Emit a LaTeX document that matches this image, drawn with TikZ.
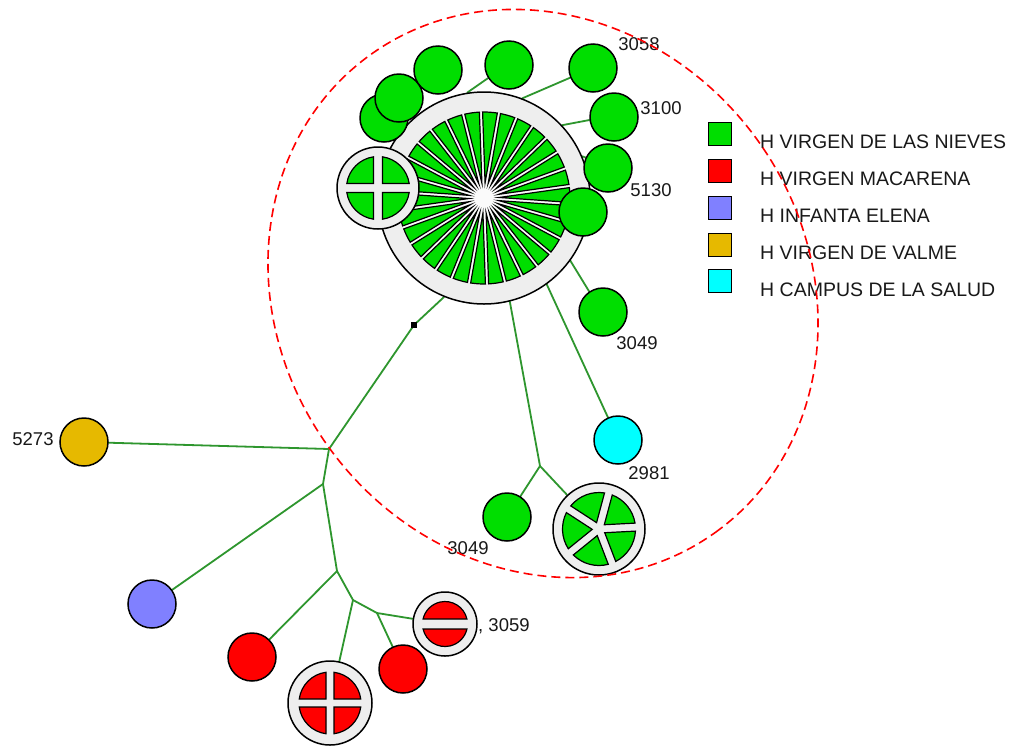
\documentclass[tikz,border=0pt]{standalone}
\usepackage{fontspec}
\setmainfont{Liberation Sans}
\usetikzlibrary{calc}
\definecolor{ngreen}{RGB}{0,222,0}
\definecolor{nred}{RGB}{255,0,0}
\definecolor{nblue}{RGB}{128,128,255}
\definecolor{nyellow}{RGB}{230,185,0}
\definecolor{ncyan}{RGB}{0,255,255}
\definecolor{ringgray}{RGB}{238,238,238}
\definecolor{edgegreen}{RGB}{46,150,46}
\pgfdeclarelayer{bgzero}
\pgfdeclarelayer{edges}
\pgfsetlayers{bgzero,edges,main}
% #1 cx, #2 cy, #3 R, #4 n, #5 start angle, #6 gap, #7 colour
\newcommand\piewedges[7]{%
  \pgfmathsetmacro\pieD{360/#4}%
  \pgfmathsetmacro\pieV{(#6/2)/sin(\pieD/2)}%
  \pgfmathsetmacro\pieE{asin((#6/2)/#3)}%
  \foreach \k in {1,...,#4}{%
    \pgfmathsetmacro\pieA{#5+(\k-1)*\pieD}%
    \pgfmathsetmacro\pieM{\pieA+\pieD/2}%
    \pgfmathsetmacro\pieS{\pieA+\pieE}%
    \pgfmathsetmacro\pieT{\pieA+\pieD-\pieE}%
    \filldraw[fill=#7, draw=black, line width=1.2pt, line join=miter]
      ($(#1,#2)+(-\pieM:\pieV)$) -- ($(#1,#2)+(-\pieS:#3)$)
      arc[start angle=-\pieS, end angle=-\pieT, radius=#3] -- cycle;
  }%
}
\begin{document}
\begin{tikzpicture}[x=1pt,y=-1pt,
  nd/.style={circle, draw=black, line width=1.5pt, inner sep=0pt},
  gnode/.style={nd, fill=ngreen, minimum size=48pt},
  edge/.style={draw=edgegreen, line width=1.8pt, line cap=round},
  lbl/.style={font=\fontsize{18.5}{20}\selectfont, inner sep=0pt, text=black!90},
  legsq/.style={draw=black, line width=1.2pt, minimum size=23pt, inner sep=0pt},
  legtxt/.style={font=\fontsize{19.5}{22}\selectfont, inner sep=0pt, anchor=west, text=black!90}]
\begin{pgfonlayer}{bgzero}
\fill[white] (0,0) rectangle (1019,745);
\end{pgfonlayer}
\useasboundingbox (0,0) rectangle (1019,745);

% big pie node
\node[nd, fill=ringgray, minimum size=212pt] (B) at (484,198) {};
\fill[white!98!black] (484,198) circle[radius=86];
\piewedges{484}{198}{86}{30}{80}{3.2}{ngreen}

% green nodes round the big one
\node[gnode] (G1) at (384,118) {};
\node[gnode] (G2) at (399,98) {};
\node[gnode] (G3) at (438,70) {};
\node[gnode] (G4) at (509,65) {};
\node[gnode] (G5) at (593,68) {};
\node[gnode] (G6) at (614,117) {};
\node[gnode] (G7) at (608,168) {};
\node[gnode] (G8) at (583,212) {};
\node[gnode] (G9) at (603,312) {};
\node[gnode] (G10) at (507,517) {};

% cross node left of big one
\node[nd, fill=ringgray, minimum size=82pt] (C4) at (378,188) {};
\piewedges{378}{188}{31.5}{4}{0}{9}{ngreen}

% five-part node
\node[nd, fill=ringgray, minimum size=92pt] (W6) at (599,529) {};
\piewedges{599}{529}{36.5}{5}{3}{8}{ngreen}

\node[nd, fill=ncyan, minimum size=48pt] (Cy) at (618,440) {};
\node[nd, fill=nyellow, minimum size=48pt] (Y) at (84,442) {};
\node[nd, fill=nblue, minimum size=48pt] (Bl) at (152,604) {};
\node[nd, fill=nred, minimum size=48pt] (R1) at (252,657) {};
\node[nd, fill=nred, minimum size=48pt] (R2) at (403,669) {};

\node[nd, fill=ringgray, minimum size=84pt] (RC4) at (330,703) {};
\piewedges{330}{703}{31}{4}{0}{8}{nred}
\node[nd, fill=ringgray, minimum size=64pt] (RH2) at (445,624) {};
\piewedges{445}{624}{22.5}{2}{0}{10}{nred}

% hub and junctions
\node[fill=black, minimum size=6pt, inner sep=0pt] (Hq) at (414,325) {};
\coordinate (J1) at (329,449);
\coordinate (J2) at (323,484);
\coordinate (J3) at (337,571);
\coordinate (J4) at (353,600);
\coordinate (J5) at (377,613);
\coordinate (J6) at (540,466);

\begin{pgfonlayer}{edges}
\draw[edge] (B.99) -- (G4.212);
\draw[edge] (B.69) -- (G5.203);
\draw[edge] (B.43) -- (G6.187);
\draw[edge] (B.23) -- (G7.155);
\draw[edge] (B.-36.5) -- (G9.124);
\draw[edge] (B.-54) -- (Cy.114);
\draw[edge] (B.-76) -- (J6);
\draw[edge] (J6) -- (G10);
\draw[edge] (J6) -- (W6);
\draw[edge] (B.-112) -- (Hq.center);
\draw[edge] (Hq.center) -- (J1);
\draw[edge] (J1) -- (Y);
\draw[edge] (J1) -- (J2);
\draw[edge] (J2) -- (Bl);
\draw[edge] (J2) -- (J3);
\draw[edge] (J3) -- (R1);
\draw[edge] (J3) -- (J4);
\draw[edge] (J4) -- (RC4);
\draw[edge] (J4) -- (J5);
\draw[edge] (J5) -- (R2);
\draw[edge] (J5) -- (RH2);
\end{pgfonlayer}

% labels
\node[lbl] (L3058) at (639,44) {3058};
\node[lbl] (L3100) at (661,108) {3100};
\node[lbl] (L5130) at (651,190) {5130};
\node[lbl] (L3049a) at (637,343) {3049};
\node[lbl] (L2981) at (649,473) {2981};
\node[lbl] (L3049b) at (468,548) {3049};
\node[lbl] (L5273) at (33,439) {5273};
\node[lbl, anchor=base west] (L3059) at (478,631) {, 3059};

% legend
\node[legsq, fill=ngreen] (K1) at (720,134) {};
\node[legsq, fill=nred] (K2) at (720,171) {};
\node[legsq, fill=nblue] (K3) at (720,208) {};
\node[legsq, fill=nyellow] (K4) at (720,245) {};
\node[legsq, fill=ncyan] (K5) at (720,281) {};
\node[legtxt] (T1) at (760,141.5) {H VIRGEN DE LAS NIEVES};
\node[legtxt] (T2) at (760,178.5) {H VIRGEN MACARENA};
\node[legtxt] (T3) at (760,215.5) {H INFANTA ELENA};
\node[legtxt] (T4) at (760,252.5) {H VIRGEN DE VALME};
\node[legtxt] (T5) at (760,289.5) {H CAMPUS DE LA SALUD};

% dashed red outline
\draw[red, line width=1.6pt, dash pattern=on 9pt off 5pt, rotate around={-53.5:(543,293.5)}]
  (543,293.5) ellipse [x radius=294.6, y radius=263.7];
\end{tikzpicture}
\end{document}
